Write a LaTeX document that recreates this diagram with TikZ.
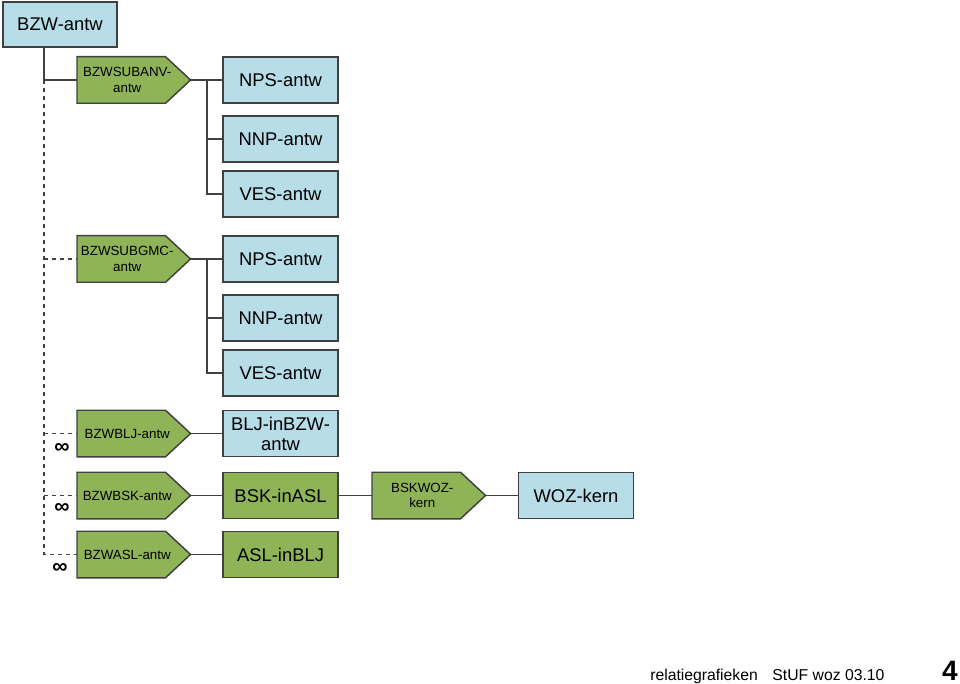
\documentclass[tikz,border=0pt]{standalone}
\usepackage{fontspec}
\setmainfont{Liberation Sans}
\usetikzlibrary{backgrounds}
\definecolor{antwblauw}{RGB}{183,221,232}
\definecolor{antwgroen}{RGB}{143,180,87}
\definecolor{rand}{RGB}{64,64,64}
\tikzset{
    entiteit/.style={draw=rand,line width=1.1pt,minimum width=86.25pt,minimum height=34.5pt,
        inner sep=1pt,align=center,font=\fontsize{13.8}{15}\selectfont},
    blauw/.style={entiteit,fill=antwblauw},
    groen/.style={entiteit,fill=antwgroen},
    relatie/.style={minimum width=75pt,minimum height=34.5pt,inner sep=1pt,text width=73pt,
        align=center,font=\fontsize{10}{11.5}\selectfont,anchor=west},
    vijfhoek/.style={draw=rand,line width=1.1pt,fill=antwgroen},
    veel/.style={font=\bfseries\fontsize{16}{16}\selectfont,inner sep=0pt}
}
\begin{document}
\begin{tikzpicture}[x=0.75pt,y=-0.75pt]
        \useasboundingbox (0,0) rectangle (960,684);
        \node[blauw,minimum width=85.5pt,minimum height=33.75pt] (bzw) at (60,24.5) {BZW-antw};
        % subgroep anv
        \node[relatie] (anv) at (77,80) {BZWSUBANV-\\antw};
        \node[blauw] (nps1) at (280.5,80) {NPS-antw};
        \node[blauw] (nnp1) at (280.5,139) {NNP-antw};
        \node[blauw] (ves1) at (280.5,194) {VES-antw};
        % subgroep gmc
        \node[relatie] (gmc) at (77,259) {BZWSUBGMC-\\antw};
        \node[blauw] (nps2) at (280.5,259) {NPS-antw};
        \node[blauw] (nnp2) at (280.5,318) {NNP-antw};
        \node[blauw] (ves2) at (280.5,373) {VES-antw};
        % overige relaties
        \node[relatie] (blj) at (77,433.5) {BZWBLJ-antw};
        \node[blauw] (bljin) at (280.5,433.5) {BLJ-inBZW-\\antw};
        \node[relatie] (bsk) at (77,495.5) {BZWBSK-antw};
        \node[groen] (bskin) at (280.5,495.5) {BSK-inASL};
        \node[relatie] (bskwoz) at (372,495.5) {BSKWOZ-\\kern};
        \node[blauw] (woz) at (576,495.5) {WOZ-kern};
        \node[relatie] (asl) at (77,554.5) {BZWASL-antw};
        \node[groen] (aslin) at (280.5,554.5) {ASL-inBLJ};
        \node[veel] (m1) at (62,448) {∞};
        \node[veel] (m2) at (62,508) {∞};
        \node[veel] (m3) at (60,568) {∞};
        \coordinate (stam) at (44,47);
        \coordinate (knik) at (44,80);
        \coordinate (v1) at (207,80);
        \coordinate (v2) at (207,259);
        \begin{scope}[on background layer,every path/.style={draw=rand,line width=0.9pt}]
            \draw (stam) -- (knik) -- (anv.west);
            \draw[dashed] (knik) |- (asl.west);
            \draw[dashed] (knik |- gmc.west) -- (gmc.west);
            \draw[dashed] (knik |- blj.west) -- (blj.west);
            \draw[dashed] (knik |- bsk.west) -- (bsk.west);
            \draw (anv.east) -- (nps1.west);
            \draw (v1) |- (nnp1.west);
            \draw (v1) |- (ves1.west);
            \draw (gmc.east) -- (nps2.west);
            \draw (v2) |- (nnp2.west);
            \draw (v2) |- (ves2.west);
            \draw (blj.east) -- (bljin.west);
            \draw (bsk.east) -- (bskin.west);
            \draw (bskin.east) -- (bskwoz.west);
            \draw (bskwoz.east) -- (woz.west);
            \draw (asl.east) -- (aslin.west);
        \end{scope}
        % de vijfhoeken achter de relatienamen
        \begin{scope}[on background layer]
            \foreach \r in {anv,gmc,blj,bsk,bskwoz,asl}
                \draw[vijfhoek] (\r.north west) -- ([xshift=-9pt]\r.north east)
                    -- ([xshift=9.75pt]\r.east) -- ([xshift=-9pt]\r.south east)
                    -- (\r.south west) -- cycle;
        \end{scope}
        \node[anchor=base west,inner sep=0pt,font=\fontsize{11.8}{13}\selectfont] (voet) at (650,680)
            {relatiegrafieken\hspace{11pt}StUF woz 03.10};
        \node[anchor=base,inner sep=0pt,font=\bfseries\fontsize{21}{21}\selectfont] (blad) at (950,680) {4};
    \end{tikzpicture}
\end{document}
